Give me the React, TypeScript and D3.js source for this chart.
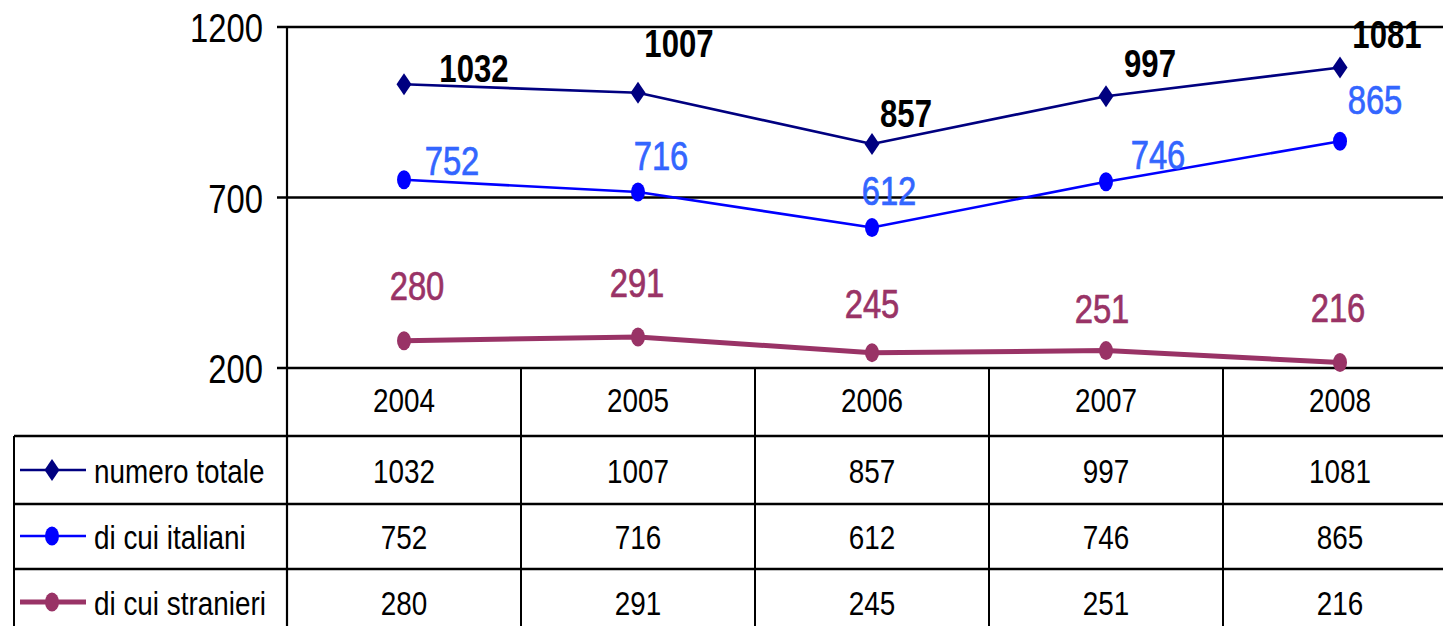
import { useEffect, useRef } from "react";
import * as d3 from "d3";

const years = ["2004", "2005", "2006", "2007", "2008"];
const numeroTotale = [1032, 1007, 857, 997, 1081];
const diCuiItaliani = [752, 716, 612, 746, 865];
const diCuiStranieri = [280, 291, 245, 251, 216];
const yTicks = [200, 700, 1200];

// Excel-style label nudges (px from the point), one per year
const totaleNudge = [[70, -2], [41, -36], [34, -17], [44, -19], [47, -20]];
const italianiNudge = [[48, -5], [23, -22], [17, -23], [52, -13], [35, -27]];
const stranieriNudge = [[13, -41], [-1, -40], [0, -35], [-4, -28], [-2, -41]];

const FONT = "'Liberation Sans', Arial, sans-serif";
const SQUEEZE = 0.82; // the source is horizontally compressed

type Series = {
  name: string;
  values: number[];
  color: string;
  labelColor: string;
  lineWidth: number;
  marker: "diamond" | "dot";
  bold: boolean;
  nudge: number[][];
};

const series: Series[] = [
  { name: "numero totale", values: numeroTotale, color: "#000080", labelColor: "#000000", lineWidth: 2.6, marker: "diamond", bold: true, nudge: totaleNudge },
  { name: "di cui italiani", values: diCuiItaliani, color: "#0000ff", labelColor: "#3366ff", lineWidth: 2.6, marker: "dot", bold: false, nudge: italianiNudge },
  { name: "di cui stranieri", values: diCuiStranieri, color: "#993366", labelColor: "#993366", lineWidth: 5, marker: "dot", bold: false, nudge: stranieriNudge },
];

type G = d3.Selection<SVGGElement, unknown, null, undefined>;

function addText(
  g: G,
  px: number,
  py: number,
  str: string | number,
  size: number,
  anchor = "middle",
  fill = "#000",
  bold = false,
  outline = 0
) {
  const t = g.append("text")
    .attr("transform", `translate(${px},${py}) scale(${SQUEEZE},1)`)
    .attr("text-anchor", anchor)
    .attr("font-family", FONT)
    .attr("font-size", size)
    .attr("font-weight", bold ? "bold" : "normal")
    .attr("fill", fill)
    .text(str);
  if (outline > 0) t.attr("stroke", fill).attr("stroke-width", outline);
}

export default function App() {
  const svgRef = useRef<SVGSVGElement | null>(null);

  useEffect(() => {
    if (!svgRef.current) return;
    const svg = d3.select(svgRef.current);
    svg.selectAll("*").remove();

    const width = 1443;
    const height = 626;
    const plotLeft = 287;
    const colW = 234;
    const plotTop = 27;
    const plotBottom = 368;
    const rowLines = [436, 504, 569];
    const rowMids = [470, 536, 602];
    const tableLeft = 14;

    const x = d3
      .scaleBand<string>()
      .domain(years)
      .range([plotLeft, plotLeft + colW * years.length]);
    const cx = (yr: string) => (x(yr) ?? 0) + x.bandwidth() / 2;

    const y = d3.scaleLinear().domain([200, 1200]).range([plotBottom, plotTop]);

    svg.attr("width", width).attr("height", height).style("background", "#fff");

    const drawMarker = (g: G, s: Series, px: number, py: number) => {
      if (s.marker === "diamond") {
        g.append("path")
          .attr("d", `M${px},${py - 11} L${px + 7.5},${py} L${px},${py + 11} L${px - 7.5},${py} Z`)
          .attr("fill", s.color);
      } else {
        g.append("ellipse")
          .attr("cx", px)
          .attr("cy", py)
          .attr("rx", 7)
          .attr("ry", 9.5)
          .attr("fill", s.color);
      }
    };

    // grid + axis
    const grid = svg.append("g").attr("stroke", "#000");
    yTicks.forEach((t) => {
      grid.append("line")
        .attr("x1", plotLeft - 10).attr("x2", width)
        .attr("y1", y(t)).attr("y2", y(t))
        .attr("stroke-width", 2.4);
    });
    grid.append("line")
      .attr("x1", plotLeft).attr("x2", plotLeft)
      .attr("y1", plotTop).attr("y2", height)
      .attr("stroke-width", 2.2);

    const axisText = svg.append("g");
    yTicks.forEach((t) => addText(axisText, 263, y(t) + 15, t, 40, "end"));

    // table
    const table = svg.append("g").attr("stroke", "#000").attr("stroke-width", 2);
    years.forEach((yr, i) => {
      if (i === 0) return;
      table.append("line")
        .attr("x1", x(yr) ?? 0).attr("x2", x(yr) ?? 0)
        .attr("y1", plotBottom).attr("y2", height);
    });
    table.append("line")
      .attr("x1", tableLeft).attr("x2", tableLeft)
      .attr("y1", rowLines[0]).attr("y2", height);
    rowLines.forEach((ly) => {
      table.append("line")
        .attr("x1", tableLeft).attr("x2", width)
        .attr("y1", ly).attr("y2", ly)
        .attr("stroke-width", 2.4);
    });

    const tableText = svg.append("g");
    years.forEach((yr) => addText(tableText, cx(yr), 412, yr, 34));
    series.forEach((s, si) => {
      const rowMid = rowMids[si];
      s.values.forEach((v, i) => addText(tableText, cx(years[i]), rowMid + 13, v, 34));
      const lg = svg.append("g");
      lg.append("line")
        .attr("x1", 20).attr("x2", 86)
        .attr("y1", rowMid).attr("y2", rowMid)
        .attr("stroke", s.color)
        .attr("stroke-width", s.lineWidth);
      drawMarker(lg, s, 52, rowMid);
      addText(lg, 94, rowMid + 13, s.name, 34, "start");
    });

    // lines, markers, labels
    const line = d3
      .line<number>()
      .x((_, i) => cx(years[i]))
      .y((d) => y(d));

    series.forEach((s) => {
      const g = svg.append("g");
      g.append("path")
        .attr("d", line(s.values) ?? "")
        .attr("fill", "none")
        .attr("stroke", s.color)
        .attr("stroke-width", s.lineWidth)
        .attr("stroke-linejoin", "round");
      s.values.forEach((v, i) => drawMarker(g, s, cx(years[i]), y(v)));
      s.values.forEach((v, i) =>
        addText(
          g,
          cx(years[i]) + s.nudge[i][0],
          y(v) + s.nudge[i][1],
          v,
          s.bold ? 38 : 40,
          "middle",
          s.labelColor,
          s.bold,
          s.bold ? 0 : 0.7
        )
      );
    });
  }, []);

  return (
    <svg
      ref={svgRef}
      style={{ position: "absolute", left: 0, top: 0, display: "block" }}
      aria-label="Numero totale, di cui italiani, di cui stranieri 2004-2008"
    />
  );
}
